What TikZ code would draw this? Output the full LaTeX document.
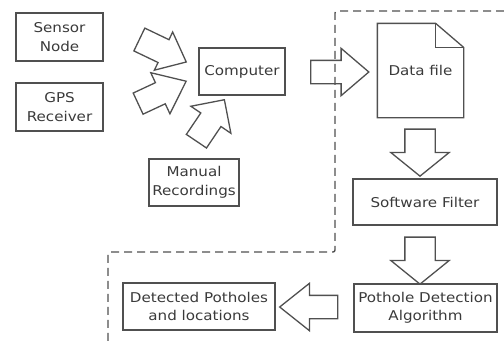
\documentclass[tikz,border=0pt]{standalone}
\usepackage{fontspec}
\setmainfont{DejaVu Sans}[FakeStretch=1.12]
\usetikzlibrary{shapes.arrows}
\definecolor{linecol}{HTML}{505050}
\definecolor{txtcol}{HTML}{3A3A3A}
\tikzset{
  box/.style={draw=linecol, line width=1.3pt, text=txtcol, align=center, inner sep=0pt,
    font=\fontsize{13.5}{18.5}\selectfont},
  blockarr/.style={single arrow, draw=linecol, line width=1.3pt, inner xsep=0pt, outer sep=0pt},
  border/.style={draw=linecol, line width=1.4pt, dash pattern=on 8pt off 5pt, rounded corners=2pt}
}
\begin{document}
\begin{tikzpicture}[x=1pt,y=-1pt]
\useasboundingbox (0,0) rectangle (504,343);
% boxes
\node[box, minimum width=87pt, minimum height=48pt] (sensor) at (59.5,37) {Sensor\\Node};
\node[box, minimum width=87pt, minimum height=48pt] (gps) at (59.5,107) {GPS\\Receiver};
\node[box, minimum width=86pt, minimum height=47pt] (comp) at (242,71.5) {Computer};
\node[box, minimum width=90pt, minimum height=47pt] (manual) at (194,182.5) {Manual\\Recordings};
\node[box, draw=none, minimum width=85pt, minimum height=93pt] (data) at (420.5,70.5) {Data file};
\draw[draw=linecol, line width=1.3pt, line join=miter]
  (data.north west) -- ([xshift=-28pt]data.north east) -- ([yshift=-24pt]data.north east)
  -- (data.south east) -- (data.south west) -- cycle;
\draw[draw=linecol, line width=1.1pt]
  ([xshift=-28pt]data.north east) -- ([xshift=-28pt,yshift=-24pt]data.north east) -- ([yshift=-24pt]data.north east);
\node[box, minimum width=144pt, minimum height=46pt] (soft) at (425,202) {Software Filter};
\node[box, minimum width=143pt, minimum height=48pt] (pot) at (425.5,308) {Pothole Detection\\Algorithm};
\node[box, minimum width=152pt, minimum height=47pt] (det) at (199,306.5) {Detected Potholes\\and locations};
% block arrows
\node[blockarr, inner ysep=12pt, minimum height=52pt, minimum width=41pt, single arrow head extend=8.5pt, single arrow tip angle=80, rotate=-25.6] (a1) at (156,47.5) {};
\node[blockarr, inner ysep=11pt, minimum height=53pt, minimum width=44pt, single arrow head extend=11pt, single arrow tip angle=77, rotate=25] (a2) at (155.5,95.5) {};
\node[blockarr, inner ysep=11.5pt, minimum height=50pt, minimum width=47pt, single arrow head extend=12pt, single arrow tip angle=90, rotate=56] (a3) at (207,125.5) {};
\node[blockarr, inner ysep=11pt, minimum height=58pt, minimum width=46pt, single arrow head extend=12pt, single arrow tip angle=81] (a4) at (333,72) {};
\node[blockarr, inner ysep=14.5pt, minimum height=47pt, minimum width=57pt, single arrow head extend=14pt, single arrow tip angle=102, rotate=-90] (a5) at (420,146.5) {};
\node[blockarr, inner ysep=14.5pt, minimum height=47pt, minimum width=57pt, single arrow head extend=14pt, single arrow tip angle=102, rotate=-90] (a6) at (420,254.5) {};
\node[blockarr, inner ysep=11pt, minimum height=58pt, minimum width=46pt, single arrow head extend=12pt, single arrow tip angle=77, rotate=180] (a7) at (316,307) {};
% dashed boundary
\coordinate (d1) at (504,11);
\coordinate (d2) at (335,11);
\coordinate (d3) at (335,252);
\coordinate (d4) at (108,252);
\coordinate (d5) at (108,343);
\draw[border] (d1) -- (d2) -- (d3) -- (d4) -- (d5);
\end{tikzpicture}
\end{document}
